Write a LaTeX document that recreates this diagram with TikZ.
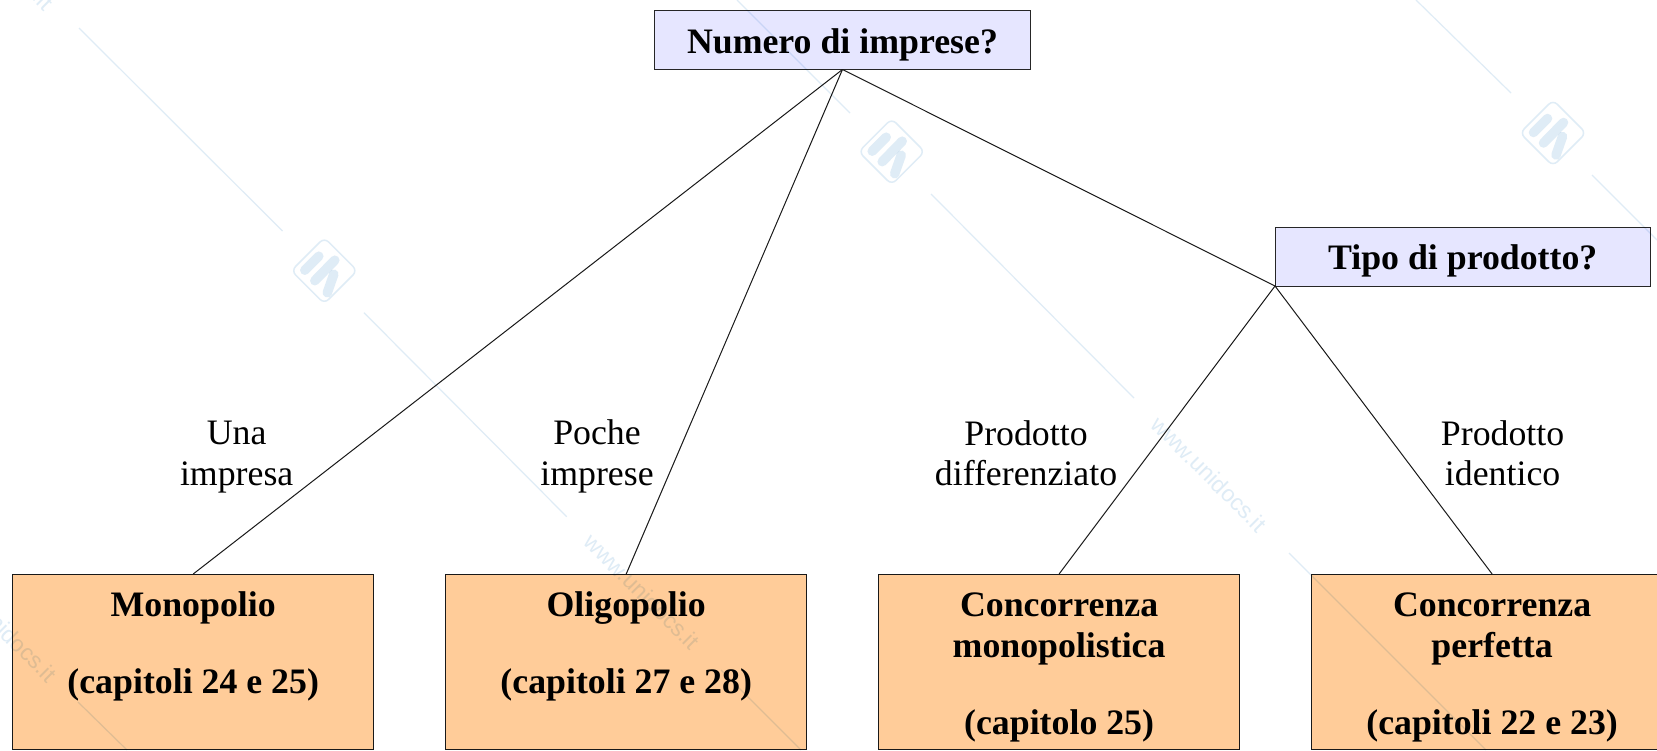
\documentclass[tikz,border=0pt]{standalone}
\usepackage{fontspec}
\setmainfont{Liberation Serif}
\newfontfamily\wmfont{Liberation Sans}
\definecolor{headfill}{HTML}{E6E6FF}
\definecolor{leaffill}{HTML}{FFCC99}
\definecolor{wmark}{HTML}{DFECF6}
\newcommand{\leaftext}[1]{\parbox[t][175.5pt][t]{361pt}{\centering\fontsize{35.8}{41}\selectfont\bfseries\rule{0pt}{42pt}#1}}
\tikzset{
  x=1pt,y=-1pt,
  every node/.style={inner sep=0pt,outer sep=0pt},
  headbox/.style={draw=black!85,line width=1pt,fill=headfill,minimum width=375.5pt,minimum height=59pt,text height=28pt,text depth=2pt,anchor=north west,font=\fontsize{35.8}{41}\selectfont\bfseries},
  leafbox/.style={draw=black!90,line width=1pt,fill=leaffill,anchor=north west},
  branchlabel/.style={align=center,font=\fontsize{35.8}{40.5}\selectfont},
  link/.style={draw=black!90,line width=1pt},
  wmline/.style={draw=wmark,line width=1.2pt},
  wmtext/.style={text=wmark,rotate=-45,font=\wmfont\fontsize{23}{28}\selectfont},
  unilogo/.pic={
    \draw[draw=wmark,line width=1.5pt,rounded corners=6pt] (0,-33) -- (33,0) -- (0,33) -- (-33,0) -- cycle;
    \draw[draw=wmark,line width=9.5pt,line cap=round] (-5.5,-14.5) -- (-19.5,-0.5);
    \draw[draw=wmark,line width=9.5pt,line cap=round] (10.5,-10.5) -- (-9.5,10);
    \draw[draw=wmark,line width=9.5pt,line cap=round] (9.5,3.5) -- (3,22);
  }
}
\begin{document}
\begin{tikzpicture}
\useasboundingbox (0,0) rectangle (1657,750);
\fill[white] (0,0) rectangle (1657,750);
\clip (0,0) rectangle (1657,750);
\node[headbox] (num) at (654.7,10.5) {Numero di imprese?};
\node[headbox] (tipo) at (1275,227) {Tipo di prodotto?};
\node[leafbox] (mono) at (12.7,574) {\leaftext{Monopolio\\[36pt](capitoli 24 e 25)}};
\node[leafbox] (oligo) at (445.7,574) {\leaftext{Oligopolio\\[36pt](capitoli 27 e 28)}};
\node[leafbox] (cmono) at (878.6,574) {\leaftext{Concorrenza\\monopolistica\\[36pt](capitolo 25)}};
\node[leafbox] (cperf) at (1311.6,574) {\leaftext{Concorrenza\\perfetta\\[36pt](capitoli 22 e 23)}};
\draw[link] (num.south) -- (mono.north);
\draw[link] (num.south) -- (oligo.north);
\draw[link] (num.south) -- (tipo.south west);
\draw[link] (tipo.south west) -- (cmono.north);
\draw[link] (tipo.south west) -- (cperf.north);
\node[branchlabel] (l1) at (236.7,457) {Una\\impresa};
\node[branchlabel] (l2) at (597,456.5) {Poche\\imprese};
\node[branchlabel] (l3) at (1026,453) {Prodotto\\differenziato};
\node[branchlabel] (l4) at (1502.6,453) {Prodotto\\identico};
\begin{scope}[blend mode=multiply]
  \draw[wmline] (79,28) -- (282.5,231);
  \pic at (324.3,270.7) {unilogo};
  \draw[wmline] (364,312.7) -- (566.7,516.7);
  \node[wmtext] (w1) at (642,591.5) {www.unidocs.it};
  \draw[wmline] (721,670) -- (801,750);
  \draw[wmline] (737,0) -- (850,113);
  \pic at (891.7,151.7) {unilogo};
  \draw[wmline] (931,194) -- (1134,398);
  \node[wmtext] (w2) at (1209,474) {www.unidocs.it};
  \draw[wmline] (1289,553) -- (1486,750);
  \draw[wmline] (1416,0) -- (1511,93);
  \pic at (1553,133) {unilogo};
  \draw[wmline] (1592,175) -- (1657,240);
  \node[wmtext] (w3) at (-1,624) {www.unidocs.it};
  \draw[wmline] (78,702) -- (127,750);
  \node[wmtext] (w4) at (-4,-48) {www.unidocs.it};
\end{scope}
\end{tikzpicture}
\end{document}
